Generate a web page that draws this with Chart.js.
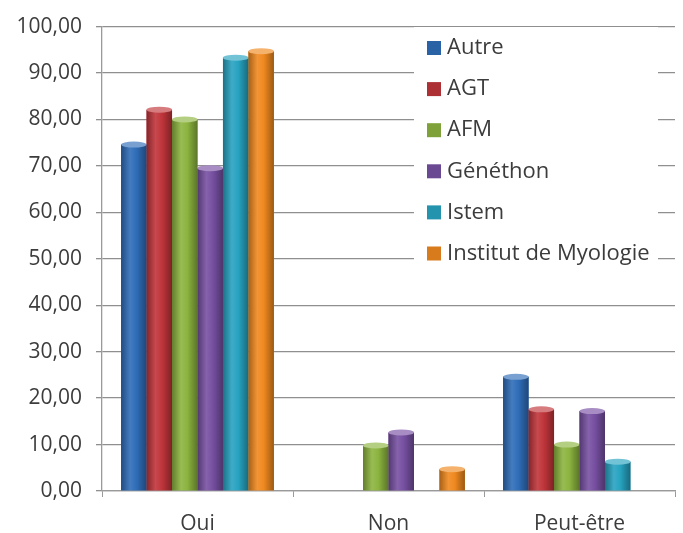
<!DOCTYPE html>
<html>
<head>
<meta charset="utf-8">
<script src="https://cdn.jsdelivr.net/npm/chart.js@4.4.1/dist/chart.umd.min.js"></script>
<style>
  html, body { margin: 0; padding: 0; background: #fff; }
  #wrap { width: 683px; height: 533px; }
</style>
</head>
<body>
<div id="wrap"><canvas id="graph" width="683" height="533"></canvas></div>
<script>
// Données du graphique
const categories = ['Oui', 'Non', 'Peut-être'];
const series = ['Autre', 'AGT', 'AFM', 'Généthon', 'Istem', 'Institut de Myologie'];
const autre = [74.6, 0, 24.6];
const agt = [82.1, 0, 17.6];
const afm = [80.0, 9.8, 10.0];
const genethon = [69.5, 12.6, 17.2];
const istem = [93.3, 0, 6.3];
const myologie = [94.7, 4.7, 0];
const yTicks = [0, 10, 20, 30, 40, 50, 60, 70, 80, 90, 100];

const valeurs = [autre, agt, afm, genethon, istem, myologie];
const couleurs = ['#2f6db8', '#c0353a', '#8cb43f', '#7750a2', '#27a3c1', '#f0891f'];

const police = "'Open Sans', Lato, sans-serif";
Chart.defaults.font.family = police;
Chart.defaults.color = '#3c3c3c';

// petite fonction pour éclaircir / assombrir une couleur
function teinte(hex, f) {
    const n = parseInt(hex.slice(1), 16);
    let r = (n >> 16) & 255, g = (n >> 8) & 255, b = n & 255;
    if (f > 0) {
        r += (255 - r) * f; g += (255 - g) * f; b += (255 - b) * f;
    } else {
        r *= 1 + f; g *= 1 + f; b *= 1 + f;
    }
    return `rgb(${Math.round(r)}, ${Math.round(g)}, ${Math.round(b)})`;
}

// effet cylindre par-dessus les barres
const cylindre = {
    id: 'cylindre',
    afterDatasetsDraw(chart) {
        const ctx = chart.ctx;
        chart.data.datasets.forEach((ds, i) => {
            const meta = chart.getDatasetMeta(i);
            meta.data.forEach(bar => {
                const h = bar.base - bar.y;
                if (h < 1) return;
                const w = bar.width;
                const x0 = bar.x - w / 2;
                const c = ds.backgroundColor;
                const grad = ctx.createLinearGradient(x0, 0, x0 + w, 0);
                grad.addColorStop(0, teinte(c, -0.3));
                grad.addColorStop(0.35, teinte(c, 0.1));
                grad.addColorStop(0.6, c);
                grad.addColorStop(1, teinte(c, -0.35));
                ctx.save();
                ctx.fillStyle = grad;
                ctx.fillRect(x0, bar.y, w, h);
                // chapeau du cylindre
                ctx.beginPath();
                ctx.ellipse(bar.x, bar.y, w / 2, 3, 0, 0, Math.PI * 2);
                ctx.fillStyle = teinte(c, 0.35);
                ctx.fill();
                ctx.restore();
            });
        });
    }
};

// légende dessinée dans la zone du graphique
const legendeInterne = {
    id: 'legendeInterne',
    afterDatasetsDraw(chart) {
        const ctx = chart.ctx;
        ctx.save();
        ctx.fillStyle = '#fff';
        ctx.fillRect(414, 27, 244, 244);
        ctx.font = `22px ${police}`;
        ctx.textBaseline = 'middle';
        chart.data.datasets.forEach((ds, i) => {
            const y = 47 + i * 41.1;
            ctx.fillStyle = teinte(ds.backgroundColor, -0.1);
            ctx.fillRect(427, y - 6, 14, 14);
            ctx.fillStyle = '#3c3c3c';
            ctx.fillText(ds.label, 447, y + 1);
        });
        ctx.restore();
    }
};

new Chart(document.getElementById('graph'), {
    type: 'bar',
    data: {
        labels: categories,
        datasets: series.map((nom, i) => ({
            label: nom,
            data: valeurs[i],
            backgroundColor: couleurs[i],
            borderWidth: 0,
            categoryPercentage: 0.8,
            barPercentage: 1.0
        }))
    },
    options: {
        responsive: false,
        animation: false,
        layout: { padding: { top: 15, right: 8, bottom: 0, left: 0 } },
        plugins: {
            legend: { display: false },
            tooltip: { enabled: false }
        },
        scales: {
            y: {
                min: 0,
                max: 100,
                afterFit: s => { s.width = 102; },
                afterBuildTicks: s => { s.ticks = yTicks.map(v => ({ value: v })); },
                ticks: {
                    font: { size: 21 },
                    padding: 14,
                    callback: v => v.toFixed(2).replace('.', ',')
                },
                grid: { color: '#8f8f8f', lineWidth: 1.3, tickLength: 6 },
                border: { color: '#9a9a9a', width: 1.3 }
            },
            x: {
                afterFit: s => { s.height = 42; },
                ticks: { font: { size: 21 }, padding: 14 },
                grid: { drawOnChartArea: false, color: '#9a9a9a', tickLength: 6, offset: true },
                border: { color: '#9a9a9a', width: 1.3 }
            }
        }
    },
    plugins: [cylindre, legendeInterne]
});
</script>
</body>
</html>
